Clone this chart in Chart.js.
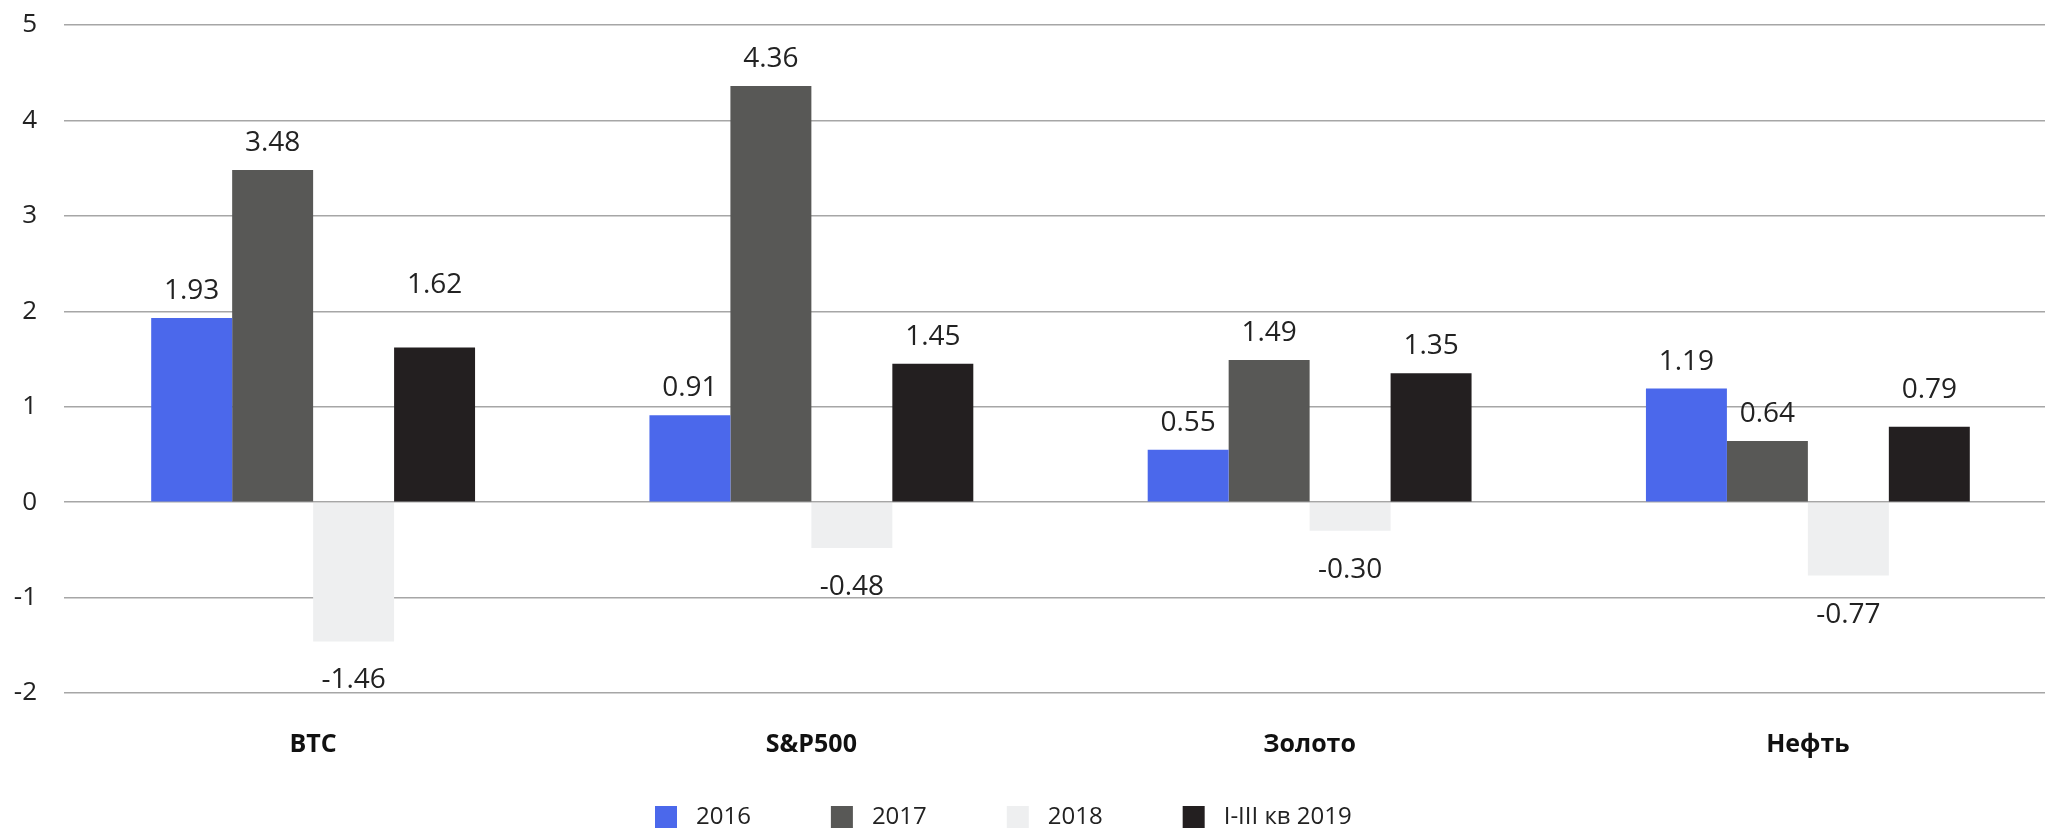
<!DOCTYPE html>
<html>
<head>
<meta charset="utf-8">
<script src="https://cdn.jsdelivr.net/npm/chart.js@4.4.1/dist/chart.umd.min.js"></script>
<style>
    html, body { margin: 0; padding: 0; background: #fff; overflow: hidden; }
    /* the plot runs slightly past the right edge of the picture */
    #wrap { width: 2057px; height: 830px; position: relative; }
</style>
</head>
<body>
<div id="wrap"><canvas id="returnsChart"></canvas></div>
<script>
const categories = ['BTC', 'S&P500', 'Золото', 'Нефть'];
const seriesNames = ['2016', '2017', '2018', 'I-III кв 2019'];
const values2016 = [1.93, 0.91, 0.55, 1.19];
const values2017 = [3.48, 4.36, 1.49, 0.64];
const values2018 = [-1.46, -0.48, -0.30, -0.77];
const values2019 = [1.62, 1.45, 1.35, 0.79];
const yTicks = [-2, -1, 0, 1, 2, 3, 4, 5];

const colors = ['#4b68eb', '#585856', '#eeeff0', '#231f20'];
const fontFamily = '"Open Sans", "Noto Sans", sans-serif';

// extra lift for a couple of labels that sit higher in the original
const labelLift = { '3:0': 36, '3:3': 10 };

const valueLabels = {
    id: 'valueLabels',
    afterDatasetsDraw(chart) {
        const ctx = chart.ctx;
        ctx.save();
        ctx.font = '28px ' + fontFamily;
        ctx.fillStyle = '#222';
        ctx.textAlign = 'center';
        ctx.textBaseline = 'middle';
        chart.data.datasets.forEach((ds, di) => {
            const meta = chart.getDatasetMeta(di);
            meta.data.forEach((bar, i) => {
                const v = ds.data[i];
                const lift = labelLift[di + ':' + i] || 0;
                const y = v >= 0 ? bar.y - 27 - lift : bar.y + 39;
                ctx.fillText(v.toFixed(2), bar.x, y);
            });
        });
        ctx.restore();
    }
};

const bottomLegend = {
    id: 'bottomLegend',
    afterDraw(chart) {
        const ctx = chart.ctx;
        ctx.save();
        ctx.font = '24px ' + fontFamily;
        ctx.textBaseline = 'middle';
        ctx.textAlign = 'left';
        let x = 655;
        const yMid = 817;
        chart.data.datasets.forEach(ds => {
            ctx.fillStyle = ds.backgroundColor;
            ctx.fillRect(x, yMid - 11, 22, 22);
            ctx.fillStyle = '#222';
            ctx.fillText(ds.label, x + 41, yMid);
            x += 41 + ctx.measureText(ds.label).width + 80;
        });
        ctx.restore();
    }
};

const allValues = [values2016, values2017, values2018, values2019];

new Chart(document.getElementById('returnsChart'), {
    type: 'bar',
    data: {
        labels: categories,
        datasets: seriesNames.map((name, i) => ({
            label: name,
            data: allValues[i],
            backgroundColor: colors[i],
            borderWidth: 0,
            categoryPercentage: 0.65,
            barPercentage: 1
        }))
    },
    options: {
        responsive: true,
        maintainAspectRatio: false,
        animation: false,
        layout: { padding: { top: 25, bottom: 33, left: 0, right: 0 } },
        plugins: {
            legend: { display: false },
            tooltip: { enabled: false }
        },
        scales: {
            x: {
                grid: { display: false, drawTicks: false },
                border: { display: false },
                ticks: {
                    color: '#111',
                    padding: 37,
                    font: { family: fontFamily, size: 25, weight: 'bold' }
                }
            },
            y: {
                min: -2,
                max: 5,
                afterFit(scale) {
                    scale.width = 64;
                    scale.paddingTop = 0;
                    scale.paddingBottom = 0;
                },
                afterBuildTicks(scale) { scale.ticks = yTicks.map(v => ({ value: v })); },
                grid: { color: '#a6a6a6', lineWidth: 1.5, drawTicks: false },
                border: { display: false },
                ticks: {
                    color: '#222',
                    padding: 27,
                    font: { family: fontFamily, size: 26 }
                }
            }
        }
    },
    plugins: [valueLabels, bottomLegend]
});
</script>
</body>
</html>
